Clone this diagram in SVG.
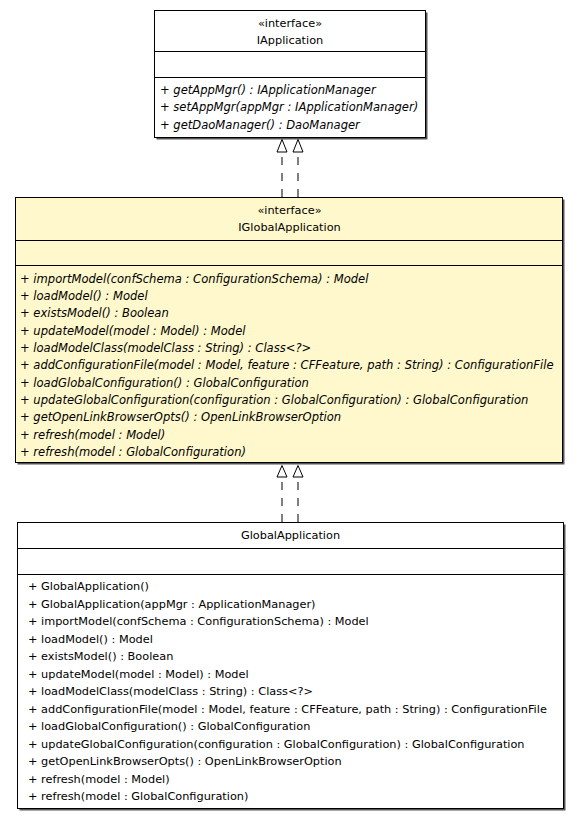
<svg xmlns="http://www.w3.org/2000/svg" width="580" height="817" viewBox="0 0 580 817">
<defs>
<style>
text{font-family:"DejaVu Sans","Liberation Sans",sans-serif;font-size:11.3px;fill:#000}
.it{font-style:italic;font-size:11.55px}
.c{text-anchor:middle}
.box{stroke:#000;stroke-width:1}
.sh{fill:#555}
.dv{stroke:#000;stroke-width:1}
.dash{stroke:#000;stroke-width:1;stroke-dasharray:8,8;fill:none}
.head{fill:#fff;stroke:#000;stroke-width:1}
</style>
</defs>
<rect width="580" height="817" fill="#fff"/>
<g id="IApplication">
<rect class="sh" x="156.5" y="12.5" width="271" height="127"/>
<rect class="box" x="154.5" y="10.5" width="271" height="127" fill="#fff"/>
<line class="dv" x1="154.5" y1="51.5" x2="425.5" y2="51.5"/>
<line class="dv" x1="154.5" y1="77.5" x2="425.5" y2="77.5"/>
<text class="c" x="290" y="26.5">«interface»</text>
<text class="c" x="290" y="43.5">IApplication</text>
<text class="it" x="160" y="93.5">+ getAppMgr() : IApplicationManager</text>
<text class="it" x="160" y="111">+ setAppMgr(appMgr : IApplicationManager)</text>
<text class="it" x="160" y="128.5">+ getDaoManager() : DaoManager</text>
</g>
<g id="IGlobalApplication">
<rect class="sh" x="17.5" y="199.5" width="547" height="265"/>
<rect class="box" x="15.5" y="197.5" width="547" height="265" fill="#fff8cc"/>
<line class="dv" x1="15.5" y1="240.5" x2="562.5" y2="240.5"/>
<line class="dv" x1="15.5" y1="265.5" x2="562.5" y2="265.5"/>
<text class="c" x="289.5" y="213.5">«interface»</text>
<text class="c" x="289.5" y="231">IGlobalApplication</text>
<text class="it" x="20" y="282.5">+ importModel(confSchema : ConfigurationSchema) : Model</text>
<text class="it" x="20" y="299.8">+ loadModel() : Model</text>
<text class="it" x="20" y="317.2">+ existsModel() : Boolean</text>
<text class="it" x="20" y="334.5">+ updateModel(model : Model) : Model</text>
<text class="it" x="20" y="351.9">+ loadModelClass(modelClass : String) : Class&lt;?&gt;</text>
<text class="it" x="20" y="369.2">+ addConfigurationFile(model : Model, feature : CFFeature, path : String) : ConfigurationFile</text>
<text class="it" x="20" y="386.5">+ loadGlobalConfiguration() : GlobalConfiguration</text>
<text class="it" x="20" y="403.9">+ updateGlobalConfiguration(configuration : GlobalConfiguration) : GlobalConfiguration</text>
<text class="it" x="20" y="421.2">+ getOpenLinkBrowserOpts() : OpenLinkBrowserOption</text>
<text class="it" x="20" y="438.6">+ refresh(model : Model)</text>
<text class="it" x="20" y="455.9">+ refresh(model : GlobalConfiguration)</text>
</g>
<g id="GlobalApplication">
<rect class="sh" x="19.5" y="524.5" width="546" height="286"/>
<rect class="box" x="17.5" y="522.5" width="546" height="286" fill="#fff"/>
<line class="dv" x1="17.5" y1="548.5" x2="563.5" y2="548.5"/>
<line class="dv" x1="17.5" y1="574.5" x2="563.5" y2="574.5"/>
<text class="c" x="290.5" y="539">GlobalApplication</text>
<text x="28" y="590">+ GlobalApplication()</text>
<text x="28" y="607.5">+ GlobalApplication(appMgr : ApplicationManager)</text>
<text x="28" y="625">+ importModel(confSchema : ConfigurationSchema) : Model</text>
<text x="28" y="642.5">+ loadModel() : Model</text>
<text x="28" y="660">+ existsModel() : Boolean</text>
<text x="28" y="677.5">+ updateModel(model : Model) : Model</text>
<text x="28" y="695">+ loadModelClass(modelClass : String) : Class&lt;?&gt;</text>
<text x="28" y="712.5">+ addConfigurationFile(model : Model, feature : CFFeature, path : String) : ConfigurationFile</text>
<text x="28" y="730">+ loadGlobalConfiguration() : GlobalConfiguration</text>
<text x="28" y="747.5">+ updateGlobalConfiguration(configuration : GlobalConfiguration) : GlobalConfiguration</text>
<text x="28" y="765">+ getOpenLinkBrowserOpts() : OpenLinkBrowserOption</text>
<text x="28" y="782.5">+ refresh(model : Model)</text>
<text x="28" y="800">+ refresh(model : GlobalConfiguration)</text>
</g>
<g id="connectors">
<line class="dash" x1="282" y1="197" x2="282" y2="152"/>
<line class="dash" x1="298" y1="197" x2="298" y2="152"/>
<path class="head" d="M282,139.5 L277,152 L287,152 Z"/>
<path class="head" d="M298,139.5 L293,152 L303,152 Z"/>
<line class="dash" x1="282" y1="522" x2="282" y2="477"/>
<line class="dash" x1="298" y1="522" x2="298" y2="477"/>
<path class="head" d="M282,465.5 L277,477 L287,477 Z"/>
<path class="head" d="M298,465.5 L293,477 L303,477 Z"/>
</g>
</svg>
